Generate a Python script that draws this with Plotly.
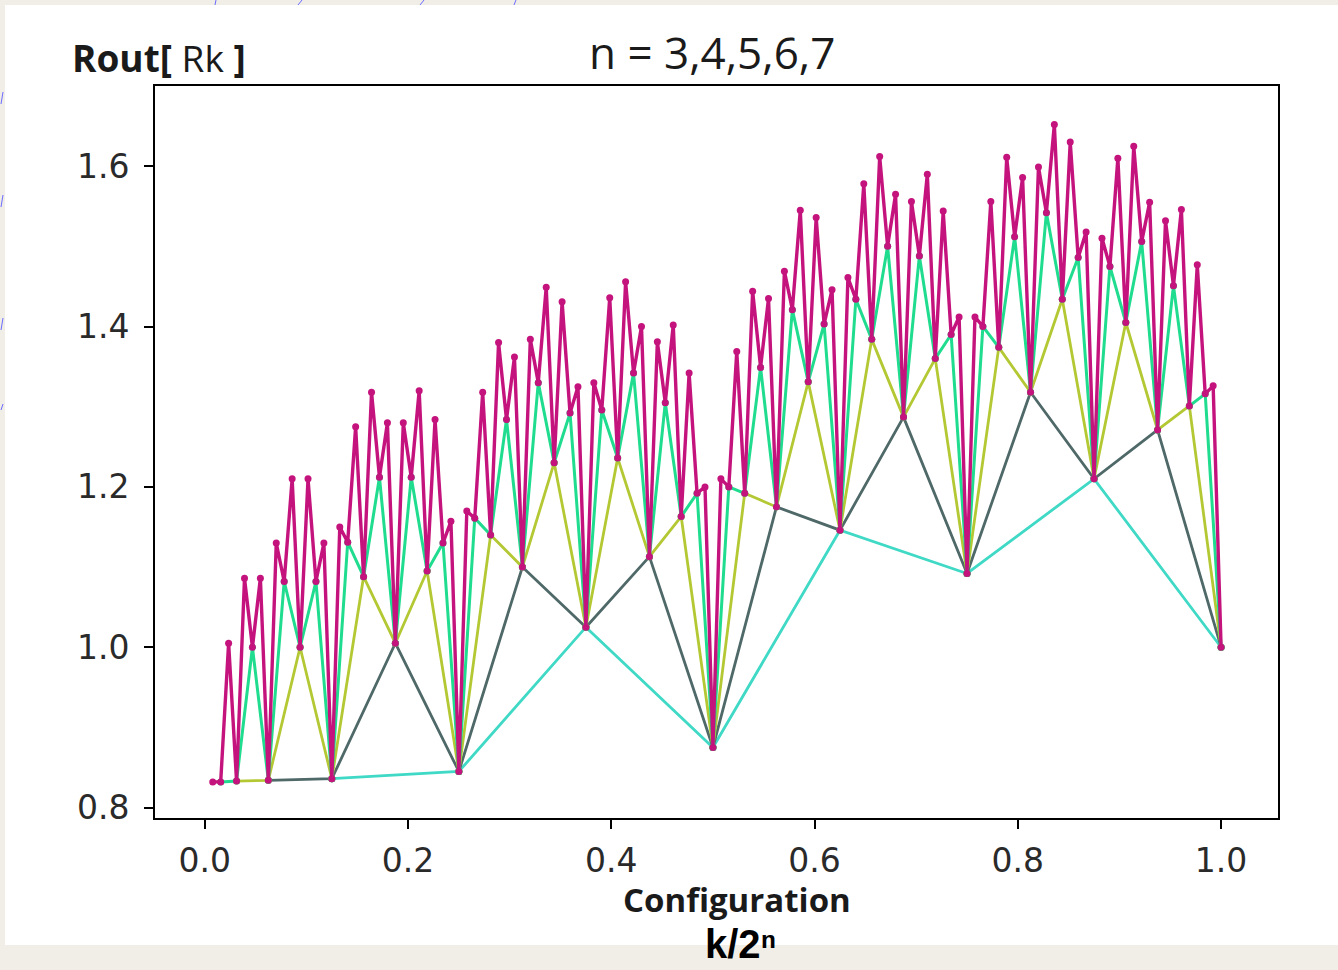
import plotly.graph_objects as go

# Output resistance Rout for every configuration k of an n-bit ladder, x = k / 2^n
r_n3 = [0.836, 0.845, 1.025, 0.875, 1.146, 1.092, 1.210, 1.000]

r_n4 = [0.834, 0.836, 1.005, 0.845, 1.100, 1.025, 1.113, 0.875,
        1.175, 1.146, 1.287, 1.092, 1.318, 1.210, 1.271, 1.000]

r_n5 = [0.833, 0.834, 1.000, 0.836, 1.088, 1.005, 1.095, 0.845,
        1.140, 1.100, 1.230, 1.025, 1.236, 1.113, 1.163, 0.875,
        1.192, 1.175, 1.331, 1.146, 1.384, 1.287, 1.360, 1.092,
        1.374, 1.318, 1.434, 1.210, 1.405, 1.271, 1.301, 1.000]

r_n6 = [0.832, 0.833, 1.000, 0.834, 1.082, 1.000, 1.082, 0.836,
        1.131, 1.088, 1.212, 1.005, 1.212, 1.095, 1.130, 0.845,
        1.161, 1.140, 1.284, 1.100, 1.330, 1.230, 1.292, 1.025,
        1.296, 1.236, 1.342, 1.113, 1.305, 1.163, 1.192, 0.875,
        1.200, 1.192, 1.349, 1.175, 1.421, 1.331, 1.403, 1.146,
        1.434, 1.384, 1.500, 1.287, 1.488, 1.360, 1.390, 1.092,
        1.400, 1.374, 1.512, 1.318, 1.542, 1.434, 1.486, 1.210,
        1.475, 1.405, 1.506, 1.271, 1.451, 1.301, 1.316, 1.000]

r_n7 = [0.832, 0.832, 1.005, 0.833, 1.086, 1.000, 1.086, 0.834,
        1.130, 1.082, 1.210, 1.000, 1.210, 1.082, 1.130, 0.836,
        1.150, 1.131, 1.275, 1.088, 1.318, 1.212, 1.280, 1.005,
        1.280, 1.212, 1.320, 1.095, 1.284, 1.130, 1.157, 0.845,
        1.170, 1.161, 1.318, 1.140, 1.380, 1.284, 1.362, 1.100,
        1.384, 1.330, 1.449, 1.230, 1.431, 1.292, 1.325, 1.025,
        1.330, 1.296, 1.436, 1.236, 1.456, 1.342, 1.400, 1.113,
        1.381, 1.305, 1.402, 1.163, 1.342, 1.192, 1.200, 0.875,
        1.210, 1.200, 1.369, 1.192, 1.444, 1.349, 1.435, 1.175,
        1.469, 1.421, 1.545, 1.331, 1.536, 1.403, 1.446, 1.146,
        1.461, 1.434, 1.578, 1.384, 1.612, 1.500, 1.565, 1.287,
        1.556, 1.488, 1.590, 1.360, 1.544, 1.390, 1.412, 1.092,
        1.412, 1.400, 1.556, 1.374, 1.611, 1.512, 1.586, 1.318,
        1.599, 1.542, 1.652, 1.434, 1.630, 1.486, 1.518, 1.210,
        1.510, 1.475, 1.610, 1.405, 1.625, 1.506, 1.555, 1.271,
        1.532, 1.451, 1.546, 1.301, 1.477, 1.316, 1.326, 1.000]

series = [
    (3, r_n3, "#3fd9c6", 2.8),
    (4, r_n4, "#4f6868", 2.8),
    (5, r_n5, "#b4c834", 2.8),
    (6, r_n6, "#1fdc8e", 3.0),
    (7, r_n7, "#c4137c", 3.4),
]

x_ticks = [0.0, 0.2, 0.4, 0.6, 0.8, 1.0]
y_ticks = [0.8, 1.0, 1.2, 1.4, 1.6]

fig = go.Figure()
for n, vals, color, lw in series:
    xs = [k / 2 ** n for k in range(1, 2 ** n + 1)]
    fig.add_trace(go.Scatter(
        x=xs, y=vals, mode="lines+markers", name=f"n={n}",
        line=dict(color=color, width=lw),
        marker=dict(color=color, size=7),
        showlegend=False,
    ))

# plot area spans px 155..1278 horizontally and 86..818 vertically
L, R, T, B = 155, 1278, 86, 818
W, H = 1338, 970


def px(xp):
    return (xp - L) / (R - L)


def py(yp):
    return (B - yp) / (B - T)


beige = "#f1eee7"
shapes = [
    dict(type="rect", xref="paper", yref="paper", x0=px(0), x1=px(W), y0=py(0), y1=py(5),
         fillcolor=beige, line_width=0, layer="below"),
    dict(type="rect", xref="paper", yref="paper", x0=px(0), x1=px(5), y0=py(W), y1=py(0),
         fillcolor=beige, line_width=0, layer="below"),
    dict(type="rect", xref="paper", yref="paper", x0=px(0), x1=px(W), y0=py(H), y1=py(945),
         fillcolor=beige, line_width=0, layer="below"),
]
# thin blue marks along the page edges
for x0, x1 in [(215, 216), (298, 302), (420, 424), (514, 516)]:
    shapes.append(dict(type="line", xref="paper", yref="paper", x0=px(x0), x1=px(x1),
                       y0=py(5), y1=py(0), line=dict(color="#6b6bff", width=1)))
for y0, y1 in [(92, 104), (195, 207), (318, 330), (404, 410)]:
    shapes.append(dict(type="line", xref="paper", yref="paper", x0=px(1), x1=px(3),
                       y0=py(y1), y1=py(y0), line=dict(color="#6b6bff", width=1)))

annotations = [
    dict(text="n = 3,4,5,6,7", x=px(712), y=py(52), xref="paper", yref="paper",
         showarrow=False, xanchor="center", yanchor="middle",
         font=dict(family="Open Sans", size=44, color="#1a1a1a")),
    dict(text="<b>Rout[</b> Rk <b>]</b>", x=px(70), y=py(58), xref="paper", yref="paper",
         showarrow=False, xanchor="left", yanchor="middle",
         font=dict(family="Open Sans", size=37, color="#1a1a1a")),
    dict(text="<b>Configuration</b>", x=px(737), y=py(899), xref="paper", yref="paper",
         showarrow=False, xanchor="center", yanchor="middle",
         font=dict(family="Open Sans", size=33, color="#1a1a1a")),
    dict(text="<b>k/2ⁿ</b>", x=px(740), y=py(944), xref="paper", yref="paper",
         showarrow=False, xanchor="center", yanchor="middle",
         font=dict(family="Liberation Sans", size=40, color="#000000")),
]

axis_common = dict(
    showgrid=False, zeroline=False, showline=True, mirror=True,
    linecolor="#000000", linewidth=2,
    ticks="outside", ticklen=9, tickwidth=1.5, tickcolor="#000000",
    tickfont=dict(family="DejaVu Sans", size=33, color="#2a2a2a"),
)

fig.update_layout(
    width=W, height=H,
    margin=dict(l=L, r=W - R, t=T, b=H - B),
    paper_bgcolor="#ffffff", plot_bgcolor="#ffffff",
    xaxis=dict(range=[-0.049, 1.056], tickvals=x_ticks,
               ticktext=[f"{v:.1f}" for v in x_ticks], ticklabelstandoff=3, **axis_common),
    yaxis=dict(range=[0.787, 1.70], tickvals=y_ticks,
               ticktext=[f"{v:.1f}" for v in y_ticks], ticklabelstandoff=8, **axis_common),
    shapes=shapes,
    annotations=annotations,
)

fig.write_html("out.html")
